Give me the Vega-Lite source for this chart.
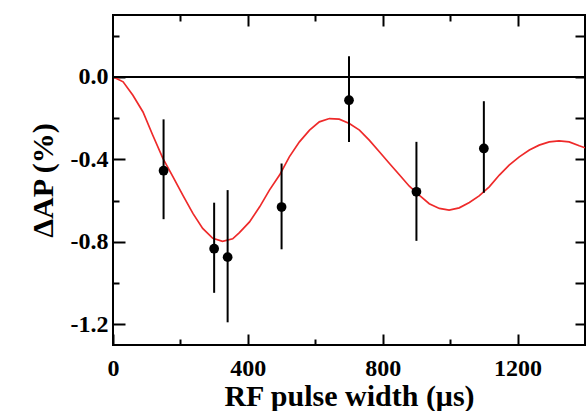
{
  "$schema": "https://vega.github.io/schema/vega-lite/v6.json",
  "width": 472,
  "height": 330,
  "autosize": {"type": "none"},
  "padding": {"left": 113, "top": 15, "right": 2, "bottom": 66},
  "background": "white",
  "config": {
    "view": {"stroke": "black", "strokeWidth": 2},
    "axis": {
      "domain": false,
      "grid": false,
      "labelFont": "Liberation Serif",
      "labelFontWeight": "bold",
      "labelFontSize": 24,
      "labelColor": "black",
      "titleFont": "Liberation Serif",
      "titleFontWeight": "bold",
      "titleFontSize": 30,
      "titleColor": "black",
      "tickColor": "black",
      "tickWidth": 2
    }
  },
  "datasets": {
    "points": [
      {"t": 150, "v": -0.455, "lo": -0.69, "hi": -0.206},
      {"t": 300, "v": -0.833, "lo": -1.047, "hi": -0.61},
      {"t": 340, "v": -0.874, "lo": -1.19, "hi": -0.549},
      {"t": 500, "v": -0.631, "lo": -0.836, "hi": -0.42},
      {"t": 700, "v": -0.113, "lo": -0.316, "hi": 0.10},
      {"t": 900, "v": -0.557, "lo": -0.795, "hi": -0.315},
      {"t": 1100, "v": -0.347, "lo": -0.562, "hi": -0.118}
    ],
    "curve": [
      {"t": 0, "v": 0},
      {"t": 30, "v": -0.024},
      {"t": 59, "v": -0.089},
      {"t": 89, "v": -0.17},
      {"t": 118, "v": -0.283},
      {"t": 148, "v": -0.395},
      {"t": 178, "v": -0.485},
      {"t": 207, "v": -0.573},
      {"t": 237, "v": -0.662},
      {"t": 266, "v": -0.735},
      {"t": 296, "v": -0.783},
      {"t": 325, "v": -0.797},
      {"t": 355, "v": -0.785},
      {"t": 375, "v": -0.755},
      {"t": 405, "v": -0.703},
      {"t": 435, "v": -0.63},
      {"t": 464, "v": -0.549},
      {"t": 494, "v": -0.476},
      {"t": 523, "v": -0.388},
      {"t": 553, "v": -0.315},
      {"t": 583, "v": -0.258},
      {"t": 612, "v": -0.218},
      {"t": 642, "v": -0.202},
      {"t": 671, "v": -0.205},
      {"t": 701, "v": -0.226},
      {"t": 731, "v": -0.258},
      {"t": 760, "v": -0.307},
      {"t": 790, "v": -0.363},
      {"t": 820, "v": -0.42},
      {"t": 850, "v": -0.476},
      {"t": 879, "v": -0.53},
      {"t": 909, "v": -0.575},
      {"t": 938, "v": -0.615},
      {"t": 968, "v": -0.638},
      {"t": 997, "v": -0.646},
      {"t": 1027, "v": -0.635},
      {"t": 1057, "v": -0.609},
      {"t": 1086, "v": -0.577},
      {"t": 1116, "v": -0.533},
      {"t": 1146, "v": -0.476},
      {"t": 1175, "v": -0.428},
      {"t": 1205, "v": -0.388},
      {"t": 1235, "v": -0.355},
      {"t": 1264, "v": -0.331},
      {"t": 1294, "v": -0.315},
      {"t": 1323, "v": -0.31},
      {"t": 1353, "v": -0.315},
      {"t": 1383, "v": -0.334},
      {"t": 1400, "v": -0.344}
    ]
  },
  "resolve": {"axis": {"x": "independent", "y": "independent"}},
  "layer": [
    {
      "data": {"name": "curve"},
      "mark": {"type": "line", "color": "#ee2a2a", "strokeWidth": 1.7, "clip": true},
      "encoding": {
        "x": {
          "field": "t", "type": "quantitative",
          "scale": {"domain": [0, 1400], "nice": false, "zero": false},
          "axis": {
            "orient": "bottom",
            "title": "RF pulse width (μs)",
            "values": [0, 200, 400, 600, 800, 1000, 1200],
            "format": "d",
            "labelExpr": "datum.value % 400 === 0 ? datum.label : ''",
            "tickSize": {"condition": {"test": "datum.value % 400 === 0", "value": -11}, "value": -6},
            "labelPadding": 22,
            "labelFlush": false,
            "labelOverlap": false,
            "titlePadding": -4
          }
        },
        "y": {
          "field": "v", "type": "quantitative",
          "scale": {"domain": [-1.3, 0.3], "nice": false, "zero": false},
          "axis": {
            "orient": "left",
            "title": "ΔAP (%)",
            "values": [-1.2, -1.0, -0.8, -0.6, -0.4, -0.2, 0, 0.2],
            "labelExpr": "abs(round(datum.value * 10)) % 4 === 0 ? replace(format(datum.value, '.1f'), '\u2212', '-') : ''",
            "tickSize": {"condition": {"test": "abs(round(datum.value * 10)) % 4 === 0", "value": -12}, "value": -6},
            "labelPadding": 17,
            "labelFlush": false,
            "labelOverlap": false,
            "titlePadding": 12
          }
        }
      }
    },
    {
      "data": {"name": "points"},
      "mark": {"type": "rule", "color": "black", "strokeWidth": 2},
      "encoding": {
        "x": {
          "field": "t", "type": "quantitative",
          "scale": {"domain": [0, 1400], "nice": false, "zero": false},
          "axis": {
            "orient": "top",
            "title": null,
            "values": [200, 400, 600, 800, 1000, 1200],
            "labels": false,
            "tickSize": {"condition": {"test": "datum.value % 400 === 0", "value": -11}, "value": -6}
          }
        },
        "y": {
          "field": "lo", "type": "quantitative",
          "scale": {"domain": [-1.3, 0.3], "nice": false, "zero": false},
          "axis": {
            "orient": "right",
            "title": null,
            "values": [-1.2, -1.0, -0.8, -0.6, -0.4, -0.2, 0, 0.2],
            "labels": false,
            "tickSize": -10
          }
        },
        "y2": {"field": "hi"}
      }
    },
    {
      "data": {"name": "points"},
      "mark": {"type": "point", "filled": true, "color": "black", "opacity": 1, "size": 95},
      "encoding": {
        "x": {"field": "t", "type": "quantitative", "scale": {"domain": [0, 1400], "nice": false, "zero": false}, "axis": null},
        "y": {"field": "v", "type": "quantitative", "scale": {"domain": [-1.3, 0.3], "nice": false, "zero": false}, "axis": null}
      }
    },
    {
      "data": {"values": [{"z": 0}]},
      "mark": {"type": "rule", "color": "black", "strokeWidth": 2},
      "encoding": {
        "y": {"field": "z", "type": "quantitative", "scale": {"domain": [-1.3, 0.3], "nice": false, "zero": false}, "axis": null}
      }
    }
  ]
}
